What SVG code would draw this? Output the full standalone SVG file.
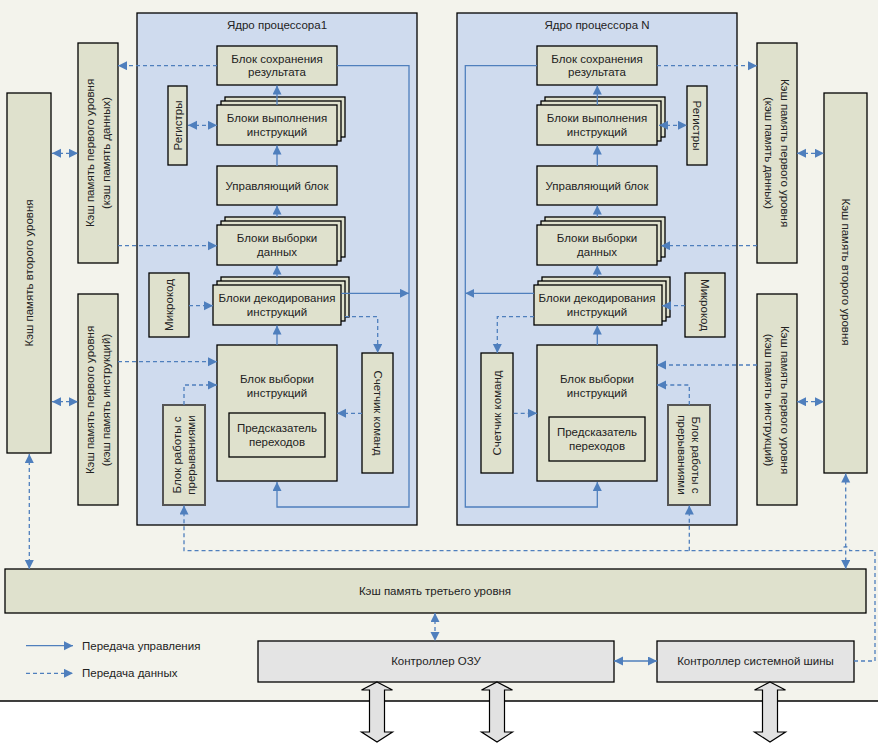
<svg xmlns="http://www.w3.org/2000/svg" width="878" height="753" viewBox="0 0 878 753">
<defs>
<style>
.bg{fill:#f3f3ec}
.core{fill:#cfdbee;stroke:#000;stroke-width:1.3}
.blk{fill:#dfe1cd;stroke:#000;stroke-width:1.3}
.irq{fill:#dfe1cd;stroke:#555;stroke-width:2}
.ctl{fill:#e4e4e4;stroke:#000;stroke-width:1.3}
.big{fill:#e2e2e2;stroke:#000;stroke-width:1.2}
text{font-family:"Liberation Sans",Arial,sans-serif;font-size:11.5px;fill:#222;text-anchor:middle;dominant-baseline:central}
.s{fill:none;stroke:#4f7fbd;stroke-width:1.3}
.d{fill:none;stroke:#4f7fbd;stroke-width:1.3;stroke-dasharray:4 3}
.e{marker-end:url(#ah)}
.b{marker-start:url(#ah);marker-end:url(#ah)}
</style>
<marker id="ah" markerUnits="userSpaceOnUse" markerWidth="10" markerHeight="10" viewBox="0 0 10 10" refX="9" refY="4.5" orient="auto-start-reverse">
<path d="M0,0 L9,4.5 L0,9 z" fill="#4f7fbd"/>
</marker>
</defs>
<rect class="bg" x="0" y="0" width="878" height="701"/>
<line x1="0" y1="701" x2="878" y2="701" stroke="#000" stroke-width="1.3"/>

<g id="core1"><rect class="core" x="137" y="13" width="280" height="512"/><text x="277" y="25">Ядро процессора1</text></g>
<g id="coreN"><rect class="core" x="457" y="13" width="280" height="512"/><text x="597" y="25">Ядро процессора N</text></g>

<!-- left caches -->
<g id="l2left"><rect class="blk" x="7" y="93" width="44" height="360"/><text transform="translate(29,273) rotate(-90)">Кэш память второго уровня</text></g>
<g id="l1data1"><rect class="blk" x="78" y="43" width="40" height="220"/><text transform="translate(98,153) rotate(-90)"><tspan x="0" y="-8">Кэш память первого уровня</tspan><tspan x="0" y="8">(кэш память данных)</tspan></text></g>
<g id="l1instr1"><rect class="blk" x="78" y="294" width="40" height="211"/><text transform="translate(98,400) rotate(-90)"><tspan x="0" y="-8">Кэш память первого уровня</tspan><tspan x="0" y="8">(кэш память инструкций)</tspan></text></g>

<!-- core 1 blocks -->
<g id="save1"><rect class="blk" x="217" y="46" width="120" height="39"/><text x="277" y="59">Блок сохранения</text><text x="277" y="72">результата</text></g>
<g id="exec1"><rect class="blk" x="225" y="97" width="120" height="40"/><rect class="blk" x="221" y="101" width="120" height="40"/><rect class="blk" x="217" y="105" width="120" height="40"/><text x="277" y="118">Блоки выполнения</text><text x="277" y="132">инструкций</text></g>
<g id="regs1"><rect class="blk" x="168" y="86" width="19" height="79"/><text transform="translate(177.5,125.5) rotate(-90)">Регистры</text></g>
<g id="ctrl1"><rect class="blk" x="217" y="166" width="120" height="39"/><text x="277" y="185.5">Управляющий блок</text></g>
<g id="dfetch1"><rect class="blk" x="225" y="217" width="120" height="40"/><rect class="blk" x="221" y="221" width="120" height="40"/><rect class="blk" x="217" y="225" width="120" height="40"/><text x="277" y="238">Блоки выборки</text><text x="277" y="252">данных</text></g>
<g id="micro1"><rect class="blk" x="149" y="273" width="40" height="64"/><text transform="translate(169,305) rotate(-90)">Микрокод</text></g>
<g id="decode1"><rect class="blk" x="221" y="277" width="128" height="40"/><rect class="blk" x="217" y="281" width="128" height="40"/><rect class="blk" x="213" y="285" width="128" height="40"/><text x="277" y="298">Блоки декодирования</text><text x="277" y="312">инструкций</text></g>
<g id="ifetch1"><rect class="blk" x="217" y="345" width="120" height="136"/><text x="277" y="379">Блок выборки</text><text x="277" y="392.5">инструкций</text></g>
<g id="pred1"><rect class="blk" x="229" y="413" width="96" height="44"/><text x="277" y="428">Предсказатель</text><text x="277" y="442">переходов</text></g>
<g id="pc1"><rect class="blk" x="362" y="353" width="31" height="120"/><text transform="translate(377.5,413) rotate(90)">Счетчик команд</text></g>
<g id="irq1"><rect class="irq" x="163" y="405" width="42" height="100"/><text transform="translate(184,455) rotate(-90)"><tspan x="0" y="-7">Блок работы с</tspan><tspan x="0" y="7">прерываниями</tspan></text></g>

<!-- core N blocks -->
<g id="saveN"><rect class="blk" x="537" y="46" width="120" height="39"/><text x="597" y="59">Блок сохранения</text><text x="597" y="72">результата</text></g>
<g id="execN"><rect class="blk" x="545" y="97" width="120" height="40"/><rect class="blk" x="541" y="101" width="120" height="40"/><rect class="blk" x="537" y="105" width="120" height="40"/><text x="597" y="118">Блоки выполнения</text><text x="597" y="132">инструкций</text></g>
<g id="regsN"><rect class="blk" x="687" y="86" width="20" height="79"/><text transform="translate(697,125.5) rotate(90)">Регистры</text></g>
<g id="ctrlN"><rect class="blk" x="537" y="166" width="120" height="39"/><text x="597" y="185.5">Управляющий блок</text></g>
<g id="dfetchN"><rect class="blk" x="545" y="217" width="120" height="40"/><rect class="blk" x="541" y="221" width="120" height="40"/><rect class="blk" x="537" y="225" width="120" height="40"/><text x="597" y="238">Блоки выборки</text><text x="597" y="252">данных</text></g>
<g id="microN"><rect class="blk" x="685" y="273" width="40" height="64"/><text transform="translate(705,305) rotate(90)">Микрокод</text></g>
<g id="decodeN"><rect class="blk" x="542" y="277" width="128" height="40"/><rect class="blk" x="538" y="281" width="128" height="40"/><rect class="blk" x="534" y="285" width="128" height="40"/><text x="597" y="298">Блоки декодирования</text><text x="597" y="312">инструкций</text></g>
<g id="ifetchN"><rect class="blk" x="537" y="345" width="120" height="136"/><text x="597" y="379">Блок выборки</text><text x="597" y="392.5">инструкций</text></g>
<g id="predN"><rect class="blk" x="549" y="417" width="96" height="44"/><text x="597" y="432">Предсказатель</text><text x="597" y="446">переходов</text></g>
<g id="pcN"><rect class="blk" x="481" y="353" width="32" height="120"/><text transform="translate(497,413) rotate(-90)">Счетчик команд</text></g>
<g id="irqN"><rect class="irq" x="668" y="405" width="42" height="100"/><text transform="translate(689,455) rotate(90)"><tspan x="0" y="-7">Блок работы с</tspan><tspan x="0" y="7">прерываниями</tspan></text></g>

<!-- right caches -->
<g id="l1dataN"><rect class="blk" x="757" y="43" width="40" height="220"/><text transform="translate(777,153) rotate(90)"><tspan x="0" y="-8">Кэш память первого уровня</tspan><tspan x="0" y="8">(кэш память данных)</tspan></text></g>
<g id="l1instrN"><rect class="blk" x="757" y="294" width="40" height="211"/><text transform="translate(777,400) rotate(90)"><tspan x="0" y="-8">Кэш память первого уровня</tspan><tspan x="0" y="8">(кэш память инструкций)</tspan></text></g>
<g id="l2right"><rect class="blk" x="824" y="93" width="43" height="380"/><text transform="translate(845.5,272) rotate(90)">Кэш память второго уровня</text></g>

<!-- bottom -->
<g id="l3"><rect class="blk" x="5" y="569" width="861" height="44"/><text x="435" y="591">Кэш память третьего уровня</text></g>
<g id="ramctl"><rect class="ctl" x="258" y="641" width="356" height="41"/><text x="436" y="661">Контроллер ОЗУ</text></g>
<g id="busctl"><rect class="ctl" x="657" y="641" width="197" height="41"/><text x="755.5" y="661">Контроллер системной шины</text></g>
<g id="bus1"><polygon class="big" points="377,682 392.5,690 384.5,690 384.5,732 392.5,732 377,742 361.5,732 369.5,732 369.5,690 361.5,690"/></g>
<g id="bus2"><polygon class="big" points="497,682 512.5,690 504.5,690 504.5,732 512.5,732 497,742 481.5,732 489.5,732 489.5,690 481.5,690"/></g>
<g id="bus3"><polygon class="big" points="770,682 785.5,690 777.5,690 777.5,732 785.5,732 770,742 754.5,732 762.5,732 762.5,690 754.5,690"/></g>

<g id="legend">
<path class="s e" d="M26,645.7 H73"/><text x="82" y="645.7" style="text-anchor:start">Передача управления</text>
<path class="d e" d="M26,673.3 H73"/><text x="82" y="673.3" style="text-anchor:start">Передача данных</text>
</g>

<g id="connectors">
<!-- core 1 -->
<path class="d e" d="M217,65.7 H118"/>
<path class="s e" d="M337,65.7 H409 V507 H277 V482"/>
<path class="s e" d="M277,105 V85.5"/>
<path class="s e" d="M277,166 V145.5"/>
<path class="s e" d="M277,217 V205.5"/>
<path class="s e" d="M277,277 V265.5"/>
<path class="s e" d="M277,345 V325.5"/>
<path class="d b" d="M188,125.3 H217"/>
<path class="d e" d="M118,245.7 H217"/>
<path class="d e" d="M189,305.7 H213"/>
<path class="s e" d="M341.5,293.3 H409"/>
<path class="d e" d="M345,316.7 H377.7 V353"/>
<path class="d e" d="M362,413.3 H337"/>
<path class="d e" d="M118,361.7 H217"/>
<path class="d e" d="M184,405 V385 H217"/>
<path class="d b" d="M52,153.3 H78"/>
<path class="d b" d="M52,401.7 H78"/>
<path class="d b" d="M29.3,454 V569"/>
<!-- core N -->
<path class="d e" d="M657,65.7 H757"/>
<path class="s e" d="M537,65.7 H465.3 V507 H597.3 V482"/>
<path class="s e" d="M597.3,105 V85.5"/>
<path class="s e" d="M597.3,166 V145.5"/>
<path class="s e" d="M597.3,217 V205.5"/>
<path class="s e" d="M597.3,277 V265.5"/>
<path class="s e" d="M597.3,345 V325.5"/>
<path class="d b" d="M659,125.3 H687"/>
<path class="d e" d="M757,245.7 H661"/>
<path class="d e" d="M685,305.7 H662"/>
<path class="s e" d="M534,293.3 H465.3"/>
<path class="d e" d="M534,316.7 H497.3 V353"/>
<path class="d e" d="M513.7,413.3 H537"/>
<path class="d e" d="M757,365 H657"/>
<path class="d e" d="M689.3,405 V385 H657"/>
<path class="d b" d="M797,153.3 H824"/>
<path class="d b" d="M797,401.7 H824"/>
<path class="d b" d="M845.7,473.5 V569"/>
<!-- system -->
<path class="d e" d="M854,661 H875 V550.7 H849.7 A4,4 0 0 0 841.7,550.7 H184 V505.5"/>
<path class="d e" d="M689.3,550.7 V505.5"/>
<path class="d b" d="M435,613 V641"/>
<path class="s b" d="M614,661 H657"/>
</g>
</svg>
